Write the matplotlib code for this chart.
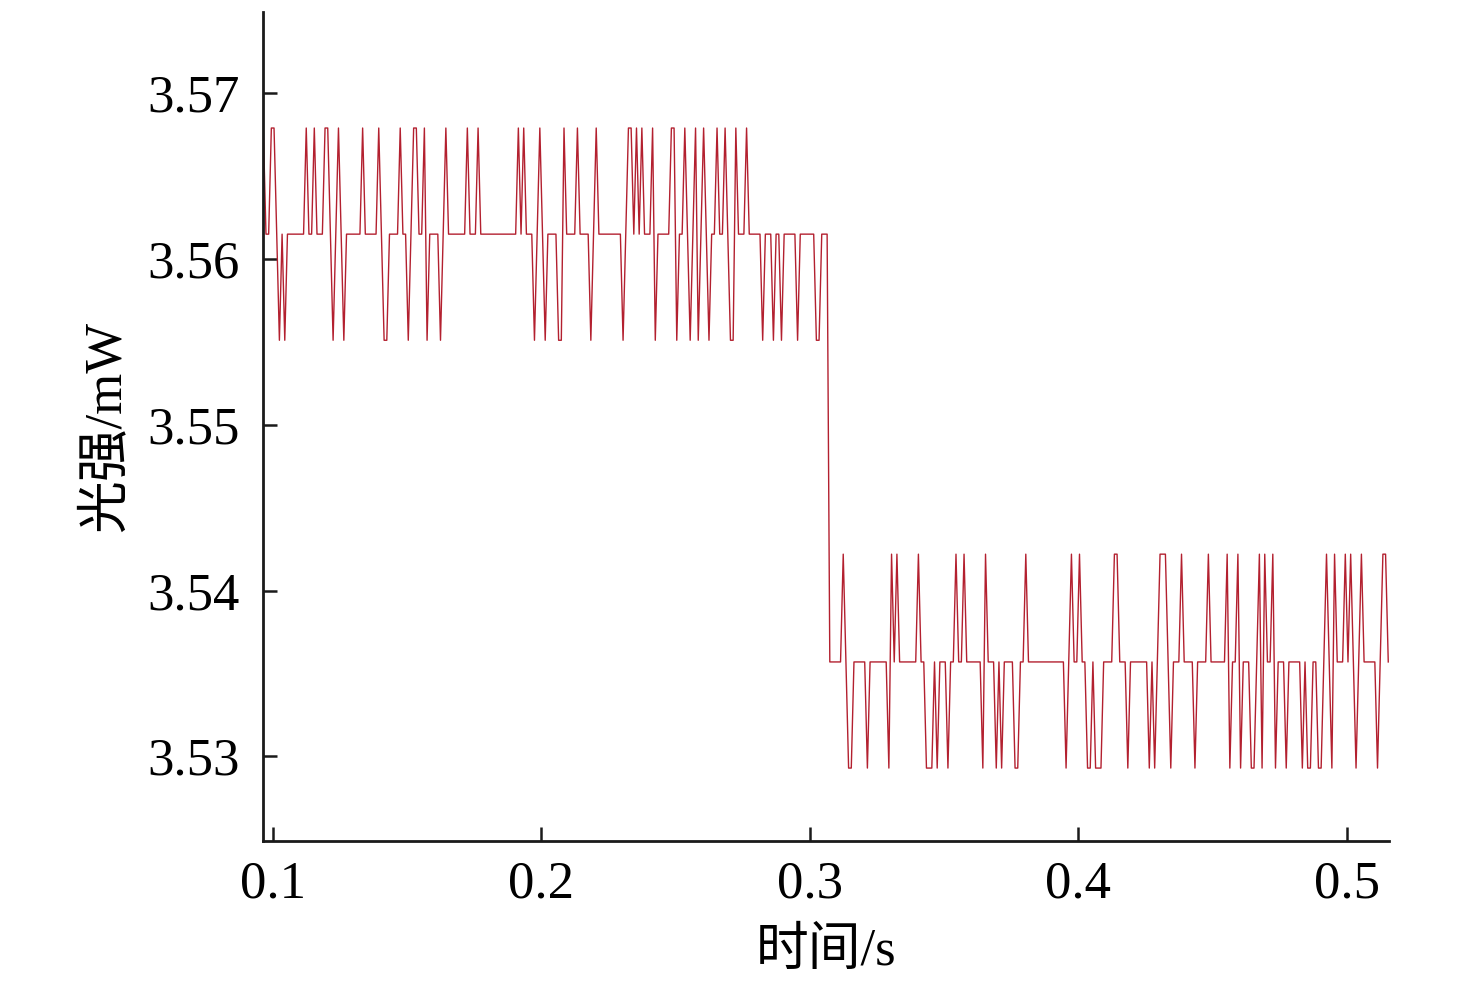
import numpy as np
import matplotlib
matplotlib.use("Agg")
import matplotlib.pyplot as plt

# quantised power levels (mW), index = level code
level_mw = [3.5293, 3.5357, 3.5422, 3.5486, 3.5551, 3.5615, 3.5679]

# sampled signal, one code per sample (dt = 1 ms)
t_start = 0.0954
dt = 0.001
codes = [
    4, 6, 5, 5, 6, 6, 5, 4, 5, 4,
    5, 5, 5, 5, 5, 5, 5, 6, 5, 5,
    6, 5, 5, 5, 6, 6, 5, 4, 5, 6,
    5, 4, 5, 5, 5, 5, 5, 5, 6, 5,
    5, 5, 5, 5, 6, 5, 4, 4, 5, 5,
    5, 5, 6, 5, 5, 4, 5, 6, 6, 5,
    5, 6, 4, 5, 5, 5, 5, 4, 5, 6,
    5, 5, 5, 5, 5, 5, 5, 6, 5, 5,
    5, 6, 5, 5, 5, 5, 5, 5, 5, 5,
    5, 5, 5, 5, 5, 5, 6, 5, 6, 5,
    5, 5, 4, 5, 6, 5, 4, 5, 5, 5,
    5, 4, 4, 6, 5, 5, 5, 5, 6, 5,
    5, 5, 5, 4, 5, 6, 5, 5, 5, 5,
    5, 5, 5, 5, 5, 4, 5, 6, 6, 5,
    6, 5, 6, 5, 5, 5, 6, 4, 5, 5,
    5, 5, 5, 6, 6, 4, 5, 5, 6, 5,
    4, 5, 6, 4, 5, 6, 5, 4, 5, 5,
    6, 5, 5, 6, 5, 4, 4, 6, 5, 5,
    5, 6, 5, 5, 5, 5, 5, 4, 5, 5,
    5, 4, 5, 5, 4, 5, 5, 5, 5, 5,
    4, 5, 5, 5, 5, 5, 5, 4, 4, 5,
    5, 5, 1, 1, 1, 1, 1, 2, 1, 0,
    0, 1, 1, 1, 1, 1, 0, 1, 1, 1,
    1, 1, 1, 1, 0, 2, 1, 2, 1, 1,
    1, 1, 1, 1, 1, 2, 1, 1, 0, 0,
    0, 1, 0, 1, 1, 1, 0, 1, 1, 2,
    1, 1, 2, 1, 1, 1, 1, 1, 1, 0,
    2, 1, 1, 1, 0, 1, 0, 1, 1, 1,
    1, 0, 0, 1, 1, 2, 1, 1, 1, 1,
    1, 1, 1, 1, 1, 1, 1, 1, 1, 1,
    0, 1, 2, 1, 1, 2, 1, 1, 0, 0,
    1, 0, 0, 0, 1, 1, 1, 1, 2, 2,
    1, 1, 1, 0, 1, 1, 1, 1, 1, 1,
    1, 0, 1, 0, 1, 2, 2, 2, 1, 0,
    1, 1, 1, 2, 1, 1, 1, 1, 0, 1,
    1, 1, 1, 2, 1, 1, 1, 1, 1, 1,
    2, 0, 1, 1, 2, 0, 1, 1, 1, 0,
    0, 1, 2, 0, 2, 1, 1, 2, 0, 1,
    1, 1, 0, 1, 1, 1, 1, 1, 0, 1,
    0, 0, 1, 1, 0, 0, 1, 2, 1, 0,
    2, 1, 1, 1, 2, 1, 2, 1, 0, 1,
    2, 1, 1, 1, 1, 1, 0, 1, 2, 2,
    1,
]

x_ticks = [0.1, 0.2, 0.3, 0.4, 0.5]
y_ticks = [3.53, 3.54, 3.55, 3.56, 3.57]

t = t_start + dt * np.arange(len(codes))
p = np.array(level_mw)[codes]

plt.rcParams['font.family'] = ['Liberation Serif', 'Noto Sans CJK SC']

fig = plt.figure(figsize=(14.76, 9.96), dpi=100)
ax = fig.add_axes([0.1782, 0.1556, 0.7629, 0.8324])

ax.plot(t, p, color='#b3202f', lw=1.0)

ax.set_xlim(0.0963, 0.5157)
ax.set_ylim(3.5249, 3.5749)
ax.set_xticks(x_ticks)
ax.set_yticks(y_ticks)
ax.set_xticklabels(['%.1f' % v for v in x_ticks])
ax.set_yticklabels(['%.2f' % v for v in y_ticks])

for s in ['top', 'right']:
    ax.spines[s].set_visible(False)
for s in ['left', 'bottom']:
    ax.spines[s].set_linewidth(2.0)
    ax.spines[s].set_color('#1a1a1a')

ax.tick_params(direction='in', length=10, width=1.8, labelsize=38, color='#1a1a1a')
ax.tick_params(axis='y', pad=17)
ax.tick_params(axis='x', pad=14)
ax.set_xlabel('时间/s', fontsize=38, labelpad=14)
ax.set_ylabel('光强/mW', fontsize=38, labelpad=12)

fig.savefig('out.png', dpi=100)
